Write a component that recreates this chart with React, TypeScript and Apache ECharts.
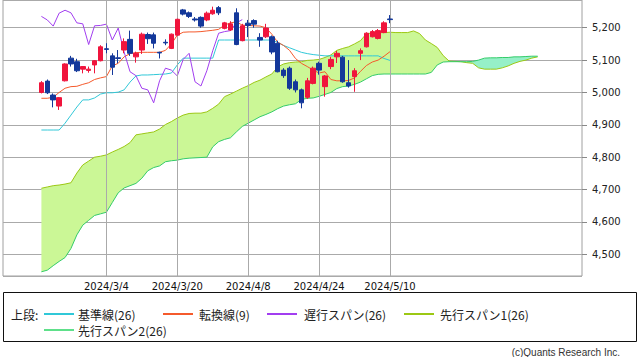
import React, { useEffect, useRef } from 'react';
import * as echarts from 'echarts';

const dates = [
  '2024/2/15', '2024/2/16', '2024/2/19', '2024/2/20', '2024/2/21', '2024/2/22', '2024/2/26', '2024/2/27', '2024/2/28', '2024/2/29', '2024/3/1',
  '2024/3/4',
  '2024/3/5', '2024/3/6', '2024/3/7', '2024/3/8', '2024/3/11', '2024/3/12', '2024/3/13', '2024/3/14', '2024/3/15', '2024/3/18', '2024/3/19',
  '2024/3/20',
  '2024/3/21', '2024/3/25', '2024/3/26', '2024/3/27', '2024/3/28', '2024/3/29', '2024/4/1', '2024/4/2', '2024/4/3', '2024/4/4', '2024/4/5',
  '2024/4/8',
  '2024/4/9', '2024/4/10', '2024/4/11', '2024/4/12', '2024/4/15', '2024/4/16', '2024/4/17', '2024/4/18', '2024/4/19', '2024/4/22', '2024/4/23',
  '2024/4/24',
  '2024/4/25', '2024/4/26', '2024/4/29', '2024/4/30', '2024/5/1', '2024/5/2', '2024/5/3', '2024/5/6', '2024/5/7', '2024/5/8', '2024/5/9',
  '2024/5/10',
];
const labelDates = ['2024/3/4', '2024/3/20', '2024/4/8', '2024/4/24', '2024/5/10'];

const opens = [
  5000, 5035, 4992, 4958, 5036, 5106, 5095, 5072, 5068, 5085,
  5098, 5135, 5113, 5107, 5131, 5164, 5110, 5131, 5179, 5178,
  5124, 5155, 5136, 5177, 5255, 5246, 5227, 5232, 5224, 5243,
  5262, 5198, 5193, 5246, 5160, 5214, 5222, 5170, 5172, 5172,
  5152, 5069, 5075, 5033, 5008, 4985, 5028, 5090, 5018, 5080,
  5110, 5109, 5030, 5049, 5121, 5141, 5172, 5167, 5185, 5227,
];
const closes = [
  5030, 4999, 4977, 4984, 5088, 5088, 5067, 5080, 5072, 5098,
  5141, 5133, 5078, 5105, 5157, 5121, 5121, 5180, 5166, 5152,
  5122, 5153, 5180, 5226, 5242, 5235, 5224, 5205, 5245, 5254,
  5246, 5215, 5212, 5148, 5206, 5207, 5211, 5162, 5199, 5125,
  5064, 5052, 5013, 5008, 4968, 5036, 5075, 5069, 5051, 5102,
  5121, 5033, 5020, 5067, 5129, 5183, 5188, 5191, 5215, 5225,
];
const lows = [
  4997, 4995, 4954, 4946, 5034, 5080, 5063, 5059, 5061, 5059,
  5096, 5121, 5054, 5090, 5121, 5113, 5092, 5119, 5150, 5136,
  5105, 5146, 5134, 5175, 5238, 5230, 5219, 5200, 5220, 5240,
  5239, 5195, 5190, 5146, 5158, 5171, 5200, 5141, 5168, 5118,
  5062, 5045, 5008, 5000, 4951, 4980, 5025, 5055, 4987, 5072,
  5091, 5030, 5015, 5002, 5100, 5139, 5170, 5164, 5183, 5214,
];
const highs = [
  5035, 5040, 4997, 4986, 5090, 5113, 5104, 5081, 5080, 5100,
  5146, 5152, 5121, 5131, 5167, 5191, 5126, 5185, 5185, 5185,
  5126, 5164, 5182, 5228, 5258, 5250, 5233, 5235, 5250, 5265,
  5267, 5218, 5220, 5260, 5212, 5224, 5226, 5183, 5212, 5176,
  5160, 5075, 5080, 5040, 5012, 5045, 5080, 5095, 5054, 5110,
  5128, 5113, 5100, 5075, 5136, 5186, 5193, 5196, 5220, 5239,
];

// 基準線(26)
const kijun = [
  4884, 4884, 4884, 4884, 4905, 4930, 4955, 4977, 4977, 4983,
  4995, 4999, 4999, 5001, 5008, 5032, 5051, 5054, 5054, 5055,
  5056, 5057, 5060, 5085, 5106, 5106, 5106, 5106, 5106, 5106,
  5162, 5162, 5162, 5162, 5162, 5162, 5162, 5162, 5162, 5162,
  5155, 5145, 5138, 5131, 5124, 5120, 5117, 5115, 5113, 5113,
  5113, 5113, 5113, 5113, 5113, 5113, 5113, 5113, 5105, 5099,
];
// 転換線(9)
const tenkan = [
  4982, 4982, 4985, 5000, 5013, 5018, 5019, 5025, 5030, 5040,
  5045, 5049, 5082, 5090, 5110, 5120, 5123, 5124, 5124, 5124,
  5124, 5130, 5150, 5177, 5186, 5187, 5187, 5188, 5190, 5192,
  5195, 5208, 5215, 5218, 5208, 5207, 5206, 5205, 5200, 5180,
  5155, 5145, 5130, 5105, 5090, 5080, 5069, 5060, 5064, 5040,
  5036, 5036, 5037, 5045, 5065, 5083, 5094, 5100, 5112, 5126,
];
// 先行スパン1(26)
const spanA = [
  4704, 4708, 4712, 4714, 4717, 4721, 4751, 4776, 4788, 4800,
  4803, 4807, 4816, 4824, 4833, 4845, 4869, 4872, 4875, 4878,
  4887, 4901, 4910, 4921, 4930, 4935, 4936, 4936, 4940, 4951,
  4964, 4987, 4995, 5004, 5013, 5021, 5031, 5038, 5048, 5057,
  5079, 5088, 5092, 5094, 5095, 5099, 5100, 5102, 5108, 5116,
  5130, 5136, 5141, 5150, 5160, 5181, 5184, 5185, 5185, 5186,
  5185, 5185, 5185, 5190, 5182, 5162, 5151, 5139, 5114, 5097,
  5096, 5095, 5092, 5090, 5076, 5072, 5072, 5072, 5076, 5082,
  5090, 5096, 5100, 5106, 5110,
];
// 先行スパン2(26)
const spanB = [
  4446, 4451, 4465, 4478, 4490, 4518, 4560, 4590, 4605, 4620,
  4625, 4630, 4660, 4690, 4705, 4712, 4719, 4735, 4758, 4768,
  4773, 4786, 4789, 4791, 4795, 4797, 4798, 4799, 4800, 4832,
  4848, 4855, 4860, 4878, 4895, 4905, 4915, 4925, 4932, 4940,
  4950, 4958, 4962, 4965, 4978, 4982, 4983, 4988, 4994, 5000,
  5012, 5018, 5020, 5025, 5032, 5042, 5052, 5056, 5057, 5057,
  5057, 5057, 5057, 5057, 5057, 5057, 5062, 5085, 5094, 5095,
  5095, 5095, 5095, 5096, 5100, 5106, 5107, 5107, 5108, 5108,
  5110, 5110, 5111, 5112, 5112,
];

const LEAD = 6;
const TOTAL = 98;

const RED = '#f0143c';
const BLUE = '#14389a';
const C_KIJUN = '#30c8d8';
const C_TENKAN = '#f55a2c';
const C_CHIKOU = '#a23ef0';
const C_SPANA = '#9cc814';
const C_SPANB = '#34cc6a';
const F_UP = '#cbf796';
const F_DN = '#96f0c8';

function pad(arr: any[]): any[] {
  const out: any[] = [];
  for (let k = 0; k < LEAD; k++) out.push('-');
  arr.forEach((v) => out.push(v));
  while (out.length < TOTAL) out.push('-');
  return out;
}

export default function App() {
  const ref = useRef<HTMLDivElement>(null);
  useEffect(() => {
    if (!ref.current) return;
    const chart = echarts.init(ref.current, undefined, { renderer: 'svg' });

    const cats: string[] = [];
    for (let k = 0; k < LEAD; k++) cats.push('_p' + k);
    dates.forEach((d) => cats.push(d));
    let f = 0;
    while (cats.length < TOTAL) cats.push('_f' + f++);

    const candles = dates.map((_, i) => [opens[i], closes[i], lows[i], highs[i]]);
    const chikou = closes.slice(25);
    const cloudBase = spanA.map((a, i) => Math.min(a, spanB[i]));
    const cloudUp = spanA.map((a, i) => Math.max(a - spanB[i], 0));
    const cloudDn = spanA.map((a, i) => Math.max(spanB[i] - a, 0));

    const cjk = '"Noto Sans CJK JP", sans-serif';
    const row1 = 314;
    const row2 = 330;
    const legendLine = (x: number, y: number, color: string) => ({
      type: 'line', silent: true,
      shape: { x1: x, y1: y, x2: x + 30, y2: y },
      style: { stroke: color, lineWidth: 2 },
    });
    const legendText = (x: number, y: number, text: string) => ({
      type: 'text', silent: true, x, y,
      style: { text, fontSize: 12, fontFamily: cjk, fill: '#222', verticalAlign: 'middle', align: 'left' },
    });

    chart.setOption({
      animation: false,
      backgroundColor: '#ffffff',
      grid: {
        left: 3, right: 57, top: 0, bottom: 81,
        show: true, borderColor: '#a0a0a0', borderWidth: 1, backgroundColor: '#ffffff',
      },
      xAxis: {
        type: 'category',
        data: cats,
        boundaryGap: true,
        axisLine: { show: false },
        axisTick: { show: false },
        splitLine: { show: false },
        axisLabel: {
          interval: (_idx: number, val: string) => labelDates.indexOf(val) >= 0,
          fontSize: 10, fontFamily: 'DejaVu Sans', color: '#111', margin: 5,
        },
      },
      yAxis: {
        type: 'value',
        position: 'right',
        min: 4433,
        max: 5285.6,
        splitNumber: 8,
        axisLine: { show: false },
        axisTick: { show: true, length: 5, lineStyle: { color: '#888' } },
        axisLabel: {
          margin: 10, fontSize: 10, fontFamily: 'DejaVu Sans', color: '#222',
          showMinLabel: false, showMaxLabel: false,
          formatter: (v: number) => (Math.abs(v % 100) < 1e-6 ? v.toLocaleString('en-US') : ''),
        },
        splitLine: { lineStyle: { color: '#aaaaaa', width: 1 } },
      },
      series: [
        {
          name: 'cloudBase', type: 'line', stack: 'cloud', data: pad(cloudBase),
          symbol: 'none', lineStyle: { width: 0, opacity: 0 }, z: 2, silent: true,
          markLine: {
            silent: true, symbol: 'none', label: { show: false },
            lineStyle: { color: '#aaaaaa', type: 'solid', width: 1 },
            data: labelDates.map((d) => ({ xAxis: d })),
          },
        },
        {
          name: 'cloudUp', type: 'line', stack: 'cloud', data: pad(cloudUp),
          symbol: 'none', lineStyle: { width: 0, opacity: 0 },
          areaStyle: { color: F_UP, opacity: 1 }, z: 2, silent: true,
        },
        {
          name: 'cloudDn', type: 'line', stack: 'cloud', data: pad(cloudDn),
          symbol: 'none', lineStyle: { width: 0, opacity: 0 },
          areaStyle: { color: F_DN, opacity: 1 }, z: 2, silent: true,
        },
        {
          name: '先行スパン1(26)', type: 'line', data: pad(spanA), symbol: 'none',
          lineStyle: { color: C_SPANA, width: 1 }, z: 3,
        },
        {
          name: '先行スパン2(26)', type: 'line', data: pad(spanB), symbol: 'none',
          lineStyle: { color: C_SPANB, width: 1 }, z: 3,
        },
        {
          name: '基準線(26)', type: 'line', data: pad(kijun), symbol: 'none',
          lineStyle: { color: C_KIJUN, width: 1 }, z: 4,
        },
        {
          name: '転換線(9)', type: 'line', data: pad(tenkan), symbol: 'none',
          lineStyle: { color: C_TENKAN, width: 1 }, z: 4,
        },
        {
          name: '遅行スパン(26)', type: 'line', data: pad(chikou), symbol: 'none',
          lineStyle: { color: C_CHIKOU, width: 1 }, z: 4,
        },
        {
          name: '株価', type: 'candlestick', data: pad(candles), barWidth: 5, z: 5,
          itemStyle: { color: RED, color0: BLUE, borderColor: RED, borderColor0: BLUE, borderWidth: 1 },
        },
      ],
      graphic: [
        {
          type: 'rect', silent: true,
          shape: { x: 3.5, y: 292.5, width: 633, height: 49 },
          style: { fill: 'none', stroke: '#111', lineWidth: 1 },
        },
        legendText(11, row1, '上段:'),
        legendLine(44, row1, C_KIJUN),
        legendText(78, row1, '基準線(26)'),
        legendLine(163, row1, C_TENKAN),
        legendText(199, row1, '転換線(9)'),
        legendLine(267, row1, C_CHIKOU),
        legendText(304, row1, '遅行スパン(26)'),
        legendLine(404, row1, C_SPANA),
        legendText(440, row1, '先行スパン1(26)'),
        legendLine(44, row2, '#5ee08a'),
        legendText(78, row2, '先行スパン2(26)'),
        {
          type: 'text', silent: true, x: 620, y: 352,
          style: {
            text: '(c)Quants Research Inc.', fontSize: 10, fontFamily: 'Liberation Sans, sans-serif',
            fill: '#333', align: 'right', verticalAlign: 'middle',
          },
        },
      ],
    });
    return () => chart.dispose();
  }, []);

  return (
    <div
      ref={ref}
      style={{ width: 639, height: 357, position: 'absolute', left: 0, top: 0 }}
    />
  );
}
